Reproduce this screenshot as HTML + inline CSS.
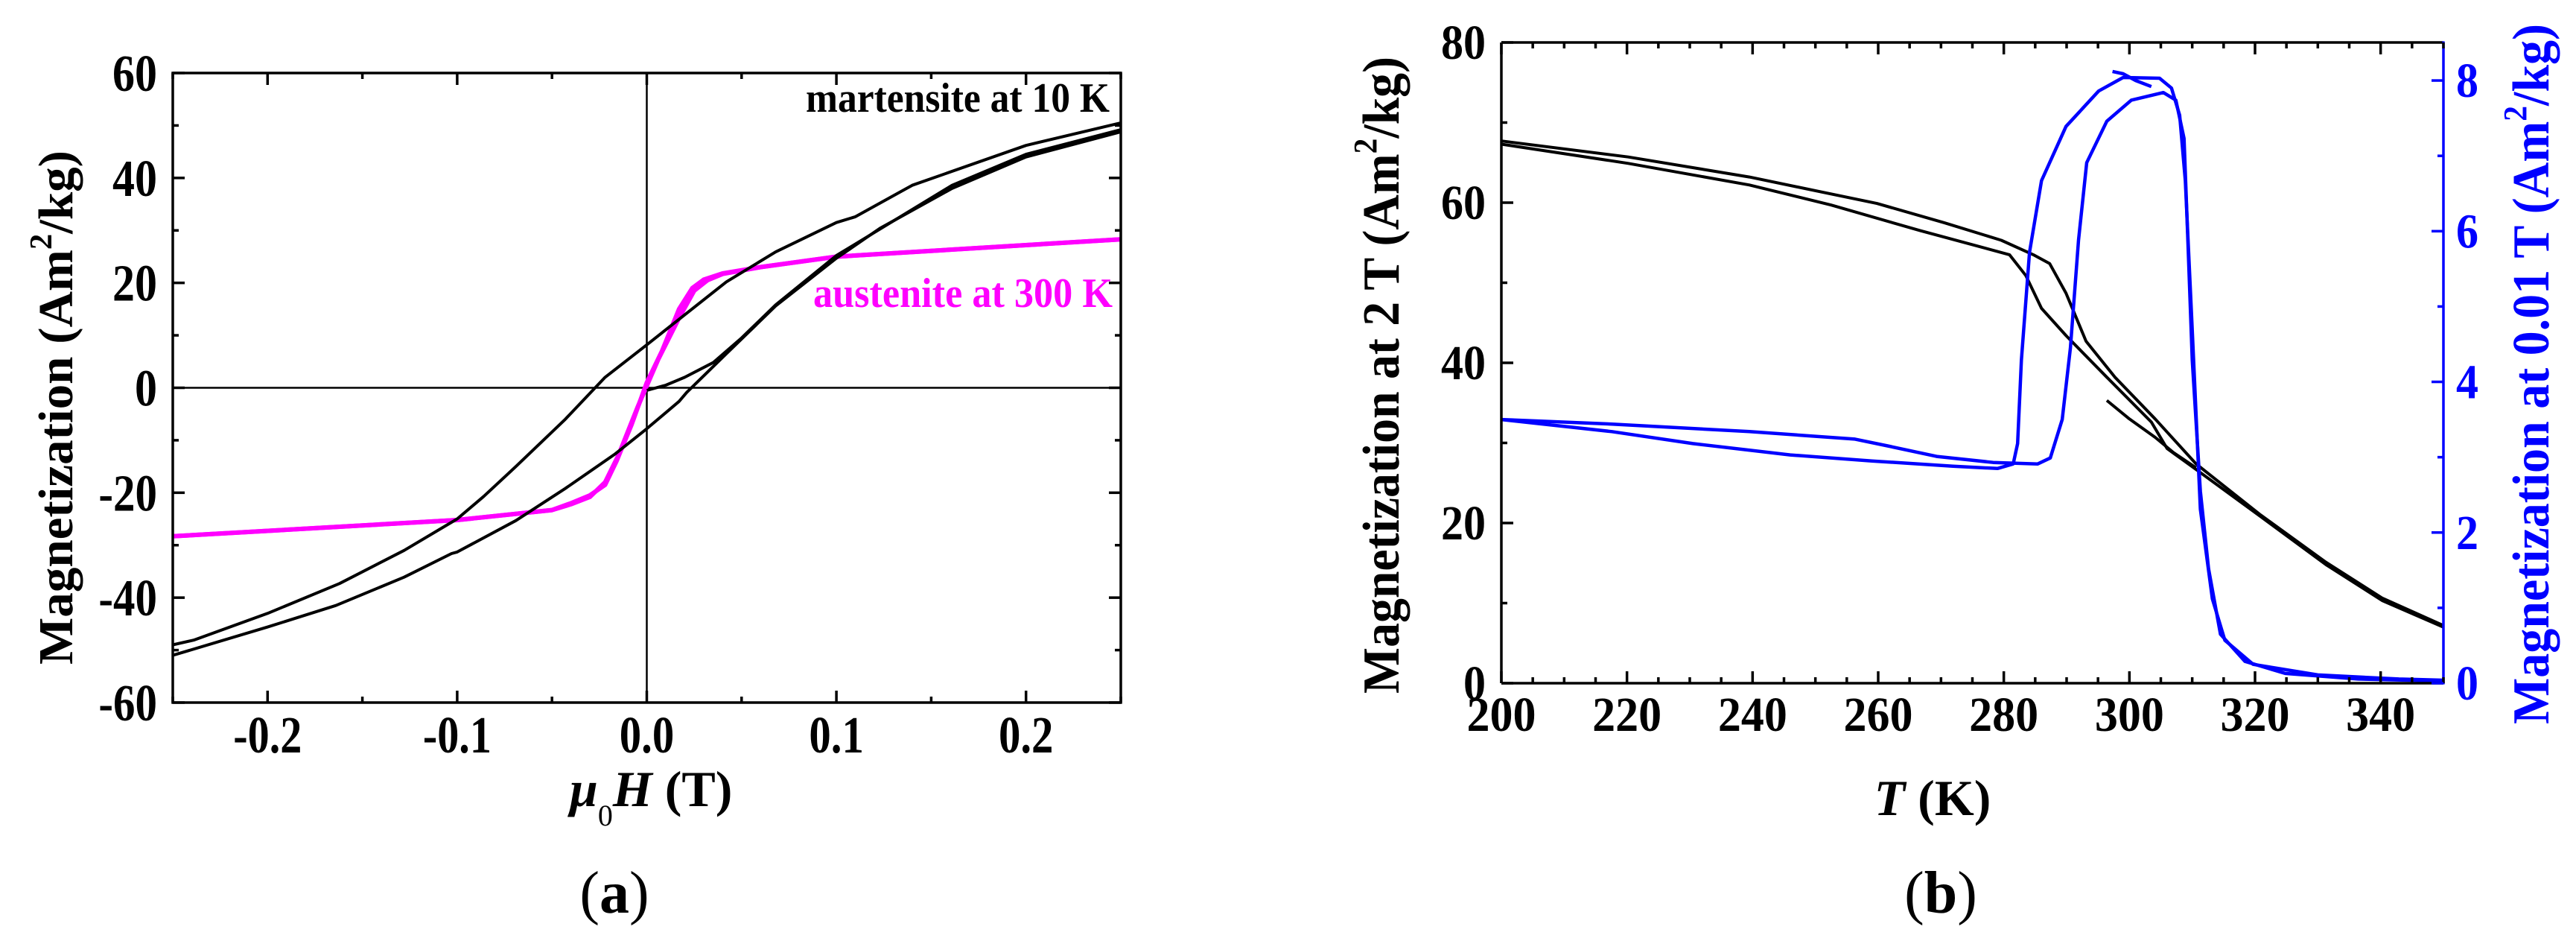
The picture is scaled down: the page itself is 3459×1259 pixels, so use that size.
<!DOCTYPE html>
<html><head><meta charset="utf-8">
<style>
html,body{margin:0;padding:0;background:#fff;}
svg{display:block;font-family:"Liberation Serif",serif;}
text{font-family:"Liberation Serif",serif;}
</style></head>
<body>
<svg id="fig" width="3459" height="1259" viewBox="0 0 3459 1259" xmlns="http://www.w3.org/2000/svg" font-family="Liberation Serif, serif">
<g id="pa"></g>
<g id="pb"></g>
</svg>
<script>
// ---------- Panel (a) data ----------
const aXTicks = [-0.2, -0.1, 0.0, 0.1, 0.2];
const aXTickLabels = ["-0.2", "-0.1", "0.0", "0.1", "0.2"];
const aYTicks = [-60, -40, -20, 0, 20, 40, 60];
const aYTickLabels = ["-60", "-40", "-20", "0", "20", "40", "60"];
const martDescH = [0.25,0.2,0.14,0.11,0.1,0.068,0.042,0.0,-0.022,-0.043,-0.069,-0.086,-0.1,-0.128,-0.162,-0.2,-0.239,-0.25];
const martDescM = [50.5,46.2,38.6,32.6,31.5,25.9,20.2,8.2,2,-6,-15,-20.7,-25,-31,-37.3,-43,-48.1,-49];
const martAscH = [-0.25,-0.2,-0.164,-0.128,-0.103,-0.1,-0.069,-0.043,-0.017,0,0.017,0.021,0.042,0.068,0.1,0.123,0.161,0.2,0.25];
const martAscM = [-51,-45.6,-41.5,-36.1,-31.6,-31.3,-25.3,-19.2,-12.7,-7.8,-2.6,-0.9,6.5,15.6,24.7,30.4,38,44,48.8];
const martVirginH = [0.0,0.01,0.02,0.035,0.05,0.068,0.1,0.161,0.2,0.25];
const martVirginM = [-0.5,0.5,2,4.8,9.5,15.8,25.2,38.6,44.5,49.2];
const austUpH = [0.25,0.1,0.06,0.04,0.03,0.024,0.017,0.008,0.0,-0.008,-0.016,-0.022,-0.03,-0.04,-0.05,-0.1,-0.25];
const austUpM = [28.3,25,23,21.8,20.6,19,15,7,1,-7,-14,-18.5,-20.5,-22,-23.3,-25.2,-28.3];
const austDnH = [-0.25,-0.1,-0.05,-0.04,-0.03,-0.022,-0.015,-0.005,0.006,0.017,0.025,0.032,0.04,0.06,0.1,0.25];
const austDnM = [-28.3,-25.2,-23.3,-22.2,-20.8,-18,-12.9,-3.8,5.4,13.3,18.5,20.5,21.7,23,25,28.3];

// ---------- Panel (b) data ----------
const bXTicks = [200,220,240,260,280,300,320,340];
const bXTickLabels = ["200","220","240","260","280","300","320","340"];
const bYTicks = [0,20,40,60,80];
const bYTickLabels = ["0","20","40","60","80"];
const bY2Ticks = [0,2,4,6,8];
const bY2TickLabels = ["0","2","4","6","8"];
const m2T1T = [200,220.2,239.5,259.8,270.5,279.6,284.7,287.3,289.9,293.1,297.7,304.1,310.6,320.9,331.3,340.3,350];
const m2T1M = [67.7,65.7,63.2,59.9,57.5,55.3,53.5,52.4,48.7,42.7,38.2,33,27.4,21,15.1,10.6,7.2];
const m2T2T = [200,220.2,239.5,252.5,266.7,280.9,283.5,286,289.9,296.4,303.5,306,310.6,320.9,331.3,340.3,350];
const m2T2M = [67.3,64.9,62.2,59.7,56.5,53.5,50.9,46.8,43.4,38.2,32.6,29.3,26.7,20.8,14.8,10.3,7.0];
const m2T3T = [296.4,300,304.1,307,310.6];
const m2T3M = [35.3,33,30.7,28.8,26.9];
const mLowAT = [200,217.6,239.5,256.3,261.5,269.3,278.3,285.4,287.4,289.3,290.6,291.9,293.2,296.4,300.3,305.4,307.4,308.7,309.3,310,311.3,312.6,314.5,318.4,324.8,336.4,350];
const mLowAM = [3.5,3.44,3.34,3.24,3.15,3.01,2.93,2.91,2.99,3.5,4.45,5.88,6.91,7.46,7.74,7.84,7.74,7.23,5.88,4.29,2.55,1.52,0.65,0.29,0.13,0.055,0.03];
const mLowBT = [200,217.6,230.5,246,259,271.9,279,281.5,282.2,282.8,284.1,286,289.9,295.1,299,304.8,306.7,308,308.9,310,311.3,313.2,315.2,319.7,330,342.9,350];
const mLowBM = [3.5,3.34,3.18,3.03,2.95,2.88,2.85,2.91,3.18,4.29,5.72,6.67,7.39,7.86,8.04,8.03,7.9,7.54,6.67,4.69,2.31,1.12,0.57,0.25,0.11,0.055,0.04];
const mLowCT = [297.3,299,301,303.5];
const mLowCM = [8.12,8.09,8.0,7.92];

const NS = "http://www.w3.org/2000/svg";
function mk(parent, tag, attrs, txt){
  const e = document.createElementNS(NS, tag);
  for (const k in attrs) e.setAttribute(k, attrs[k]);
  if (txt !== undefined) e.textContent = txt;
  parent.appendChild(e);
  return e;
}
function lenOf(s, d){ let w=0; for(const c of s){ w += (c==='.')?d*0.45:(c==='-')?d*0.62:d; } return w; }
function pathFrom(xs, ys, fx, fy){
  return xs.map((x,i)=>(i?'L':'M')+fx(x).toFixed(1)+' '+fy(ys[i]).toFixed(1)).join(' ');
}

// ===== Panel A =====
const A = {l:232, r:1505, t:98, b:943, x0:-0.25, x1:0.25, y0:-60, y1:60};
const ax = v => A.l + (v-A.x0)/(A.x1-A.x0)*(A.r-A.l);
const ay = v => A.b - (v-A.y0)/(A.y1-A.y0)*(A.b-A.t);
const pa = document.getElementById('pa');

let zl = mk(pa,'line',{x1:ax(0),x2:ax(0),y1:A.t,y2:A.b,stroke:'#000','stroke-width':2.5});


zl = mk(pa,'line',{x1:A.l,x2:A.r,y1:ay(0),y2:ay(0),stroke:'#000','stroke-width':2.5});



let p;
p = mk(pa,'path',{d:pathFrom(austUpH,austUpM,ax,ay),fill:'none',stroke:'#ff00ff','stroke-width':6,'stroke-linejoin':'round'});


p = mk(pa,'path',{d:pathFrom(austDnH,austDnM,ax,ay),fill:'none',stroke:'#ff00ff','stroke-width':6,'stroke-linejoin':'round'});


p = mk(pa,'path',{d:pathFrom(martDescH,martDescM,ax,ay),fill:'none',stroke:'#000','stroke-width':4,'stroke-linejoin':'round'});


p = mk(pa,'path',{d:pathFrom(martAscH,martAscM,ax,ay),fill:'none',stroke:'#000','stroke-width':4,'stroke-linejoin':'round'});


p = mk(pa,'path',{d:pathFrom(martVirginH,martVirginM,ax,ay),fill:'none',stroke:'#000','stroke-width':4,'stroke-linejoin':'round'});



let fr = mk(pa,'rect',{x:A.l,y:A.t,width:A.r-A.l,height:A.b-A.t,fill:'none',stroke:'#000','stroke-width':3.5});


for (let v=-0.25; v<=0.2501; v+=0.05){
  const major = aXTicks.some(t=>Math.abs(t-v)<1e-6);
  const L = major?16:8, x=ax(v);
  mk(pa,'line',{x1:x,x2:x,y1:A.b,y2:A.b-L,stroke:'#000','stroke-width':3.5});
  mk(pa,'line',{x1:x,x2:x,y1:A.t,y2:A.t+L,stroke:'#000','stroke-width':3.5});
}
for (let v=-60; v<=60; v+=10){
  const major = aYTicks.includes(v);
  const L = major?16:8, y=ay(v);
  mk(pa,'line',{x1:A.l,x2:A.l+L,y1:y,y2:y,stroke:'#000','stroke-width':3.5});
  mk(pa,'line',{x1:A.r,x2:A.r-L,y1:y,y2:y,stroke:'#000','stroke-width':3.5});
}
aXTicks.forEach((v,i)=>{
  const s=aXTickLabels[i];
  const t = mk(pa,'text',{x:ax(v),y:1010,'text-anchor':'middle','font-family':'Liberation Serif, serif','font-size':70,'font-weight':'bold',textLength:lenOf(s,30),lengthAdjust:'spacingAndGlyphs'},s);
  
  
});
aYTicks.forEach((v,i)=>{
  const s=aYTickLabels[i];
  const t = mk(pa,'text',{x:211,y:ay(v)+24,'text-anchor':'end','font-family':'Liberation Serif, serif','font-size':70,'font-weight':'bold',textLength:lenOf(s,30),lengthAdjust:'spacingAndGlyphs'},s);
  
  
});
</script>
<script>
(function(){
  const pa=document.getElementById('pa');
  pa.insertAdjacentHTML('beforeend',
  '<text font-family="Liberation Serif, serif" transform="translate(97,892) rotate(-90)" font-size="66" font-weight="bold" textLength="690" lengthAdjust="spacingAndGlyphs">Magnetization (Am<tspan dy="-28" font-size="42">2</tspan><tspan dy="28">/kg)</tspan></text>'+
  '<text font-family="Liberation Serif, serif" x="765" y="1082" font-size="68"><tspan font-style="italic" font-weight="bold">μ</tspan><tspan dy="26" font-size="40">0</tspan><tspan dy="-26" font-style="italic" font-weight="bold">H</tspan><tspan font-weight="bold"> (T)</tspan></text>'+
  '<text font-family="Liberation Serif, serif" x="825" y="1225" text-anchor="middle" font-size="80">(<tspan font-weight="bold">a</tspan>)</text>'+
  '<text font-family="Liberation Serif, serif" x="1490" y="150" text-anchor="end" font-size="56" font-weight="bold" textLength="408" lengthAdjust="spacingAndGlyphs">martensite at 10 K</text>'+
  '<text font-family="Liberation Serif, serif" x="1494" y="412" text-anchor="end" font-size="56" font-weight="bold" fill="#ff00ff" textLength="402" lengthAdjust="spacingAndGlyphs">austenite at 300 K</text>');
})();
</script>
<script>
// ===== Panel B =====
const B = {l:2016, r:3281, t:57, b:917, x0:200, x1:350, y0:0, y1:80, z0:0, z1:8.505};
const bx = v => B.l + (v-B.x0)/(B.x1-B.x0)*(B.r-B.l);
const by = v => B.b - (v-B.y0)/(B.y1-B.y0)*(B.b-B.t);
const bz = v => B.b - (v-B.z0)/(B.z1-B.z0)*(B.b-B.t);
const pb = document.getElementById('pb');

[[m2T1T,m2T1M,'m2t-branch-1'],[m2T2T,m2T2M,'m2t-branch-2'],[m2T3T,m2T3M,'m2t-branch-3']].forEach(s=>{
  const q = mk(pb,'path',{d:pathFrom(s[0],s[1],bx,by),fill:'none',stroke:'#000','stroke-width':4,'stroke-linejoin':'round'});
  
  
});
[[mLowAT,mLowAM,'m001t-branch-a'],[mLowBT,mLowBM,'m001t-branch-b'],[mLowCT,mLowCM,'m001t-branch-c']].forEach(s=>{
  const q = mk(pb,'path',{d:pathFrom(s[0],s[1],bx,bz),fill:'none',stroke:'#0000ff','stroke-width':4.5,'stroke-linejoin':'round'});
  
  
});
mk(pb,'line',{x1:B.l,x2:B.r,y1:B.t,y2:B.t,stroke:'#000','stroke-width':3.5});
mk(pb,'line',{x1:B.l,x2:B.r,y1:B.b,y2:B.b,stroke:'#000','stroke-width':3.5});
mk(pb,'line',{x1:B.l,x2:B.l,y1:B.t,y2:B.b,stroke:'#000','stroke-width':3.5});
let ra = mk(pb,'line',{x1:B.r,x2:B.r,y1:B.t-1.5,y2:B.b+1.5,stroke:'#0000ff','stroke-width':3.5});


for (let v=200; v<=350; v+=5){
  const major = bXTicks.includes(v);
  const L = major?16:8, x=bx(v);
  mk(pb,'line',{x1:x,x2:x,y1:B.b,y2:B.b-L,stroke:'#000','stroke-width':3.5});
  mk(pb,'line',{x1:x,x2:x,y1:B.t,y2:B.t+L,stroke:'#000','stroke-width':3.5});
}
for (let v=0; v<=80; v+=10){
  const major = bYTicks.includes(v);
  const L = major?16:8, y=by(v);
  mk(pb,'line',{x1:B.l,x2:B.l+L,y1:y,y2:y,stroke:'#000','stroke-width':3.5});
}
for (let v=0; v<=8; v+=1){
  const major = bY2Ticks.includes(v);
  const L = major?16:8, y=bz(v);
  mk(pb,'line',{x1:B.r,x2:B.r-L,y1:y,y2:y,stroke:'#0000ff','stroke-width':3.5});
}
bXTicks.forEach((v,i)=>{
  const s=bXTickLabels[i];
  const t = mk(pb,'text',{x:bx(v),y:981,'text-anchor':'middle','font-family':'Liberation Serif, serif','font-size':66,'font-weight':'bold',textLength:lenOf(s,31),lengthAdjust:'spacingAndGlyphs'},s);
  
  
});
bYTicks.forEach((v,i)=>{
  const s=bYTickLabels[i];
  const t = mk(pb,'text',{x:1995,y:by(v)+22,'text-anchor':'end','font-family':'Liberation Serif, serif','font-size':66,'font-weight':'bold',textLength:lenOf(s,30),lengthAdjust:'spacingAndGlyphs'},s);
  
  
});
bY2Ticks.forEach((v,i)=>{
  const s=bY2TickLabels[i];
  const t = mk(pb,'text',{x:3298,y:bz(v)+22,'text-anchor':'start','font-family':'Liberation Serif, serif','font-size':66,'font-weight':'bold',fill:'#0000ff',textLength:lenOf(s,30),lengthAdjust:'spacingAndGlyphs'},s);
  
  
});
pb.insertAdjacentHTML('beforeend',
 '<text font-family="Liberation Serif, serif" transform="translate(1878,931) rotate(-90)" font-size="70" font-weight="bold" textLength="855" lengthAdjust="spacingAndGlyphs">Magnetization at 2 T (Am<tspan dy="-30" font-size="44">2</tspan><tspan dy="30">/kg)</tspan></text>'+
 '<text font-family="Liberation Serif, serif" transform="translate(3422,972) rotate(-90)" font-size="70" font-weight="bold" fill="#0000ff" textLength="940" lengthAdjust="spacingAndGlyphs">Magnetization at 0.01 T (Am<tspan dy="-30" font-size="44">2</tspan><tspan dy="30">/kg)</tspan></text>'+
 '<text font-family="Liberation Serif, serif" x="2595" y="1094" text-anchor="middle" font-size="68" font-weight="bold"><tspan font-style="italic">T</tspan> (K)</text>'+
 '<text font-family="Liberation Serif, serif" x="2606" y="1225" text-anchor="middle" font-size="80">(<tspan font-weight="bold">b</tspan>)</text>');
</script>
</body></html>
